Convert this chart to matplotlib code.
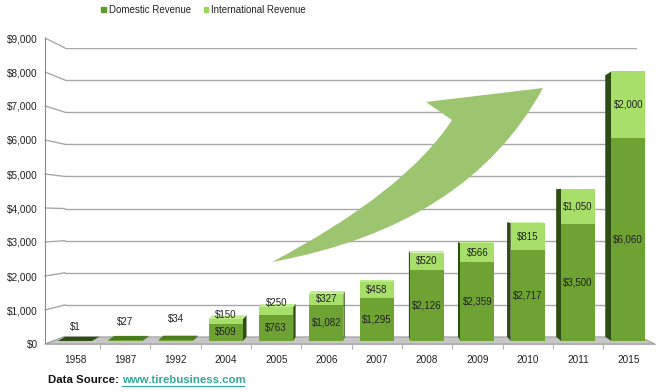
import matplotlib
matplotlib.use('Agg')
import matplotlib.pyplot as plt
from matplotlib.patches import Polygon, PathPatch, Patch, ConnectionPatch
from matplotlib.path import Path
from matplotlib.lines import Line2D

plt.rcParams['font.family'] = ['Liberation Sans', 'DejaVu Sans']

# ---------------- data ----------------
years = ['1958', '1987', '1992', '2004', '2005', '2006', '2007', '2008', '2009', '2010', '2011', '2015']
domestic = [1, 27, 34, 509, 763, 1082, 1295, 2126, 2359, 2717, 3500, 6060]
international = [0, 0, 0, 150, 250, 327, 458, 520, 566, 815, 1050, 2000]
series_names = ['Domestic Revenue', 'International Revenue']
y_ticks = [0, 1000, 2000, 3000, 4000, 5000, 6000, 7000, 8000, 9000]
y_tick_labels = ['$0', '$1,000', '$2,000', '$3,000', '$4,000', '$5,000',
                 '$6,000', '$7,000', '$8,000', '$9,000']

# ---------------- style ----------------
dom_color = '#6ea334'
int_color = '#a8de6a'
side_color = '#2e4d13'
top_int_color = '#bdec88'
top_dom_color = '#4b7a1d'
grid_color = '#a8a8a8'
text_color = '#222222'
arrow_color = '#9dc46f'

W, H = 660, 392
fig = plt.figure(figsize=(W / 100, H / 100), dpi=100)


def rect(l, t, r, b):
    return [l / W, 1 - b / H, (r - l) / W, (b - t) / H]


def fp(x, y):
    return (x / W, 1 - y / H)


ymax = 9000
xl_lim = (-0.5964, 11.531)

# back wall (gridlines)
ax_back = fig.add_axes(rect(65, 48, 637, 337), zorder=0)
ax_back.set_xlim(0, 1)
ax_back.set_ylim(0, ymax)
ax_back.set_yticks(y_ticks)
ax_back.set_xticks([])
ax_back.tick_params(left=False, labelleft=False)
ax_back.grid(axis='y', color=grid_color, lw=1.0)
for s in ax_back.spines.values():
    s.set_visible(False)
ax_back.patch.set_alpha(0)

# front plane (value axis + category axis)
ax_front = fig.add_axes(rect(45, 38, 655, 344), zorder=1)
ax_front.set_xlim(*xl_lim)
ax_front.set_ylim(0, ymax)
ax_front.set_yticks(y_ticks, labels=y_tick_labels)
ax_front.tick_params(axis='y', length=0, pad=5, labelsize=7.2, labelcolor=text_color)
xs = list(range(len(years)))
ax_front.set_xticks(xs, labels=years)
ax_front.set_xticks([i + 0.5 for i in xs[:-1]], minor=True)
ax_front.tick_params(axis='x', which='major', length=0, pad=8, labelsize=7.2, labelcolor=text_color)
ax_front.tick_params(axis='x', which='minor', length=3.5, width=0.8, color='#b0b0b0')
for k in ('top', 'right'):
    ax_front.spines[k].set_visible(False)
ax_front.spines['left'].set_color('#8a8a8a')
ax_front.spines['bottom'].set_color('#c8c8c8')
ax_front.patch.set_alpha(0)

# connectors from front axis to back wall
for v in y_ticks:
    cp = ConnectionPatch(xyA=(xl_lim[0], v), coordsA=ax_front.transData,
                         xyB=(0, v), coordsB=ax_back.transData,
                         color=grid_color, lw=1.0, zorder=0.5)
    fig.add_artist(cp)

# floor
floor = Polygon([fp(63, 337), fp(640, 337), fp(655, 344), fp(46, 344)], closed=True,
                transform=fig.transFigure, facecolor='#c6c6c6', edgecolor='#a0a0a0',
                lw=0.8, zorder=2)
fig.add_artist(floor)

# decorative arrow
verts = [fp(272, 262), fp(405, 192), fp(452, 120), fp(426, 102), fp(543, 88),
         fp(468, 226), fp(272, 262), fp(272, 262)]
codes = [Path.MOVETO, Path.CURVE3, Path.CURVE3, Path.LINETO, Path.LINETO,
         Path.CURVE3, Path.CURVE3, Path.CLOSEPOLY]
arrow = PathPatch(Path(verts, codes), transform=fig.transFigure,
                  facecolor=arrow_color, edgecolor='none', zorder=2.5)
fig.add_artist(arrow)

# bars
ax = fig.add_axes(rect(45, 40, 655, 341), zorder=3)
ax.set_xlim(*xl_lim)
ax.set_ylim(0, ymax)
ax.axis('off')
ax.patch.set_alpha(0)

bw = 0.676
kpx = 301 / ymax  # pixels per data unit (vertical)
ax.bar(xs, domestic, width=bw, color=dom_color, zorder=3, lw=0)
ax.bar(xs, international, width=bw, bottom=domestic, color=int_color, zorder=3, lw=0)

for i in xs:
    top = domestic[i] + international[i]
    xl, xr = i - bw / 2, i + bw / 2
    sx = -(i - 6) * 0.024
    top_px = 341 - top * kpx
    dyt = (top_px - 200) * 0.03 / kpx
    dyb = (341 - 200) * 0.03 / kpx
    if i != 6:
        xe = xl if i > 6 else xr
        ax.add_patch(Polygon([(xe, 0), (xe, top), (xe + sx, top + dyt), (xe + sx, dyb)],
                             closed=True, facecolor=side_color, edgecolor='none', zorder=2.8))
    if dyt > 0:
        tc = top_int_color if international[i] > 0 else top_dom_color
        if i == 0:
            tc = side_color
        ax.add_patch(Polygon([(xl, top), (xr, top), (xr + sx, top + dyt), (xl + sx, top + dyt)],
                             closed=True, facecolor=tc, edgecolor='none', zorder=2.9))

# data labels
small_offsets = [14, 18, 21]
for i in xs:
    d, n = domestic[i], international[i]
    if d * kpx < 10:
        off = small_offsets[i] if i < len(small_offsets) else 14
        ax.annotate(f'${d:,}', (i, d), xytext=(0, off), textcoords='offset pixels',
                    ha='center', va='center', fontsize=7, color=text_color, zorder=5)
    else:
        ax.text(i, d / 2, f'${d:,}', ha='center', va='center', fontsize=7,
                color=text_color, zorder=5)
    if n > 0:
        if n * kpx < 10:
            ax.annotate(f'${n:,}', (i, d + n), xytext=(0, 4), textcoords='offset pixels',
                        ha='center', va='center', fontsize=7, color=text_color, zorder=5)
        else:
            ax.text(i, d + n / 2, f'${n:,}', ha='center', va='center', fontsize=7,
                    color=text_color, zorder=5)

# legend
handles = [Patch(color='#5f9a2a'), Patch(color='#9bd45c')]
fig.legend(handles, series_names, loc='center', bbox_to_anchor=fp(203.5, 10), ncol=2,
           frameon=False, fontsize=7, handlelength=0.45, handleheight=0.45,
           handletextpad=0.3, columnspacing=1.3, borderpad=0, labelcolor=text_color)

# data source
fig.text(*fp(48, 380), 'Data Source: ', fontsize=8.2, fontweight='bold', color='#111111',
         va='center', ha='left')
fig.text(*fp(122, 380), 'www.tirebusiness.com', fontsize=8.2, fontweight='bold',
         color='#2fa89b', va='center', ha='left')
fig.add_artist(Line2D([122 / W, 244 / W], [1 - 386 / H, 1 - 386 / H],
                      transform=fig.transFigure, color='#2fa89b', lw=0.8))

fig.savefig('out.png', dpi=100)
